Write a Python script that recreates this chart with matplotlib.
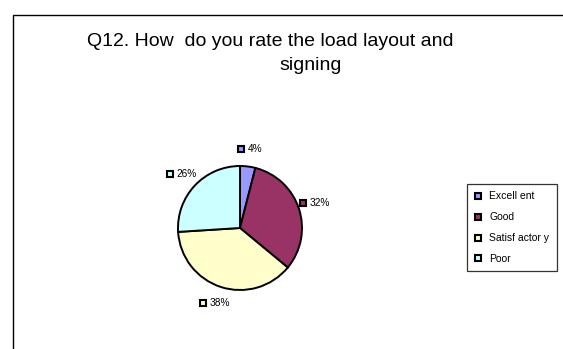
import matplotlib.pyplot as plt
import numpy as np
from matplotlib.lines import Line2D
from matplotlib.patches import Rectangle

# Q12 survey answers (percent of respondents)
categories = ['Excellent', 'Good', 'Satisfactory', 'Poor']
shares = [4, 32, 38, 26]
colors = ['#9999FF', '#993366', '#FFFFCC', '#CCFFFF']
legend_labels = ['Excell ent', 'Good', 'Satisf actor y', 'Poor']

W, H = 563, 349
plt.rcParams['font.family'] = ['Liberation Sans', 'DejaVu Sans']

fig = plt.figure(figsize=(W / 100, H / 100), dpi=100)
ax = fig.add_axes([0, 0, 1, 1])

# chart area frame (runs off the right and bottom edges)
ax.add_patch(Rectangle((12.5, -5), W, H - 14.5 + 5, fill=False,
                       edgecolor='black', linewidth=1))

ax.text(270, H - 42, 'Q12. How  do you rate the load layout and',
        ha='center', va='center', fontsize=14)
ax.text(311, H - 65, 'signing', ha='center', va='center', fontsize=14)

cx, cy, R = 240, H - 228, 62
wedges, _ = ax.pie(shares, colors=colors, startangle=90, counterclock=False,
                   center=(cx, cy), radius=R, frame=True,
                   wedgeprops=dict(edgecolor='black', linewidth=1.4))
ax.set_xlim(0, W)
ax.set_ylim(0, H)
ax.set_aspect('equal')
ax.axis('off')

# percent labels with a small colour key, sitting outside each slice
for w, val, col in zip(wedges, shares, colors):
    mid = np.deg2rad((w.theta1 + w.theta2) / 2)
    bx = cx + 1.28 * R * np.cos(mid)
    by = cy + 1.28 * R * np.sin(mid)
    txt = f'{val}%'
    bw = 12 + 7 * len(txt)
    x0 = bx - bw / 2
    ax.plot(x0 + 4, by, marker='s', markersize=4.6, markerfacecolor=col,
            markeredgecolor='black', markeredgewidth=1.5, linestyle='none')
    ax.text(x0 + 11, by, txt, ha='left', va='center', fontsize=7.3)

handles = [Line2D([], [], marker='s', linestyle='none', markersize=4.6,
                  markerfacecolor=c, markeredgecolor='black', markeredgewidth=1.5)
           for c in colors]
leg = fig.legend(handles, legend_labels, loc='upper left',
                 bbox_to_anchor=(467 / W, 1 - 184 / H), frameon=True,
                 fancybox=False, edgecolor='black', fontsize=7.5,
                 handlelength=0.7, handletextpad=0.75, labelspacing=1.05,
                 borderpad=0.7, borderaxespad=0)
leg.get_frame().set_linewidth(0.9)

fig.savefig('out.png', dpi=100, facecolor='white')
